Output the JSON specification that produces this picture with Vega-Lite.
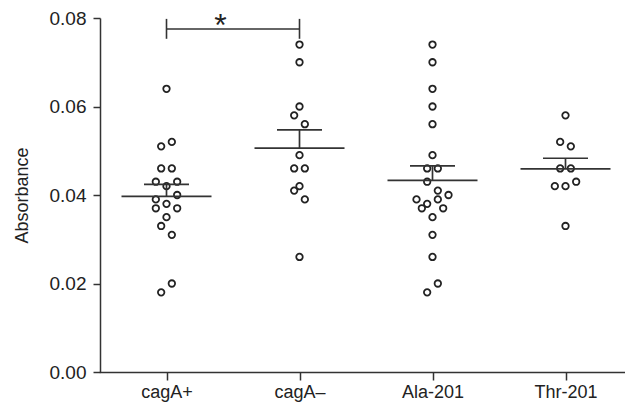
{
  "$schema": "https://vega.github.io/schema/vega-lite/v6.json",
  "autosize": {"type": "none"},
  "padding": {"left": 100, "top": 18, "right": 0, "bottom": 41},
  "width": 532,
  "height": 354,
  "background": "white",
  "config": {
    "view": {"stroke": null},
    "font": "Liberation Sans",
    "axis": {"domainColor": "#333333", "domainWidth": 1.5, "tickColor": "#333333", "tickWidth": 1.5, "labelColor": "#222222", "titleColor": "#222222", "grid": false}
  },
  "datasets": {
    "points": [
      {"group": "cagA+", "absorbance": 0.064, "col": 0},
      {"group": "cagA+", "absorbance": 0.052, "col": 1},
      {"group": "cagA+", "absorbance": 0.051, "col": -1},
      {"group": "cagA+", "absorbance": 0.046, "col": -1},
      {"group": "cagA+", "absorbance": 0.046, "col": 1},
      {"group": "cagA+", "absorbance": 0.043, "col": -2},
      {"group": "cagA+", "absorbance": 0.043, "col": 2},
      {"group": "cagA+", "absorbance": 0.042, "col": 0},
      {"group": "cagA+", "absorbance": 0.040, "col": 2},
      {"group": "cagA+", "absorbance": 0.039, "col": -2},
      {"group": "cagA+", "absorbance": 0.038, "col": 0},
      {"group": "cagA+", "absorbance": 0.037, "col": -2},
      {"group": "cagA+", "absorbance": 0.037, "col": 2},
      {"group": "cagA+", "absorbance": 0.035, "col": 0},
      {"group": "cagA+", "absorbance": 0.033, "col": -1},
      {"group": "cagA+", "absorbance": 0.031, "col": 1},
      {"group": "cagA+", "absorbance": 0.020, "col": 1},
      {"group": "cagA+", "absorbance": 0.018, "col": -1},
      {"group": "cagA–", "absorbance": 0.074, "col": 0},
      {"group": "cagA–", "absorbance": 0.070, "col": 0},
      {"group": "cagA–", "absorbance": 0.060, "col": 0},
      {"group": "cagA–", "absorbance": 0.058, "col": -1},
      {"group": "cagA–", "absorbance": 0.056, "col": 1},
      {"group": "cagA–", "absorbance": 0.049, "col": 0},
      {"group": "cagA–", "absorbance": 0.046, "col": -1},
      {"group": "cagA–", "absorbance": 0.046, "col": 1},
      {"group": "cagA–", "absorbance": 0.042, "col": 0},
      {"group": "cagA–", "absorbance": 0.041, "col": -1},
      {"group": "cagA–", "absorbance": 0.039, "col": 1},
      {"group": "cagA–", "absorbance": 0.026, "col": 0},
      {"group": "Ala-201", "absorbance": 0.074, "col": 0},
      {"group": "Ala-201", "absorbance": 0.070, "col": 0},
      {"group": "Ala-201", "absorbance": 0.064, "col": 0},
      {"group": "Ala-201", "absorbance": 0.060, "col": 0},
      {"group": "Ala-201", "absorbance": 0.056, "col": 0},
      {"group": "Ala-201", "absorbance": 0.049, "col": 0},
      {"group": "Ala-201", "absorbance": 0.046, "col": -1},
      {"group": "Ala-201", "absorbance": 0.046, "col": 1},
      {"group": "Ala-201", "absorbance": 0.043, "col": -1},
      {"group": "Ala-201", "absorbance": 0.041, "col": 1},
      {"group": "Ala-201", "absorbance": 0.040, "col": 3},
      {"group": "Ala-201", "absorbance": 0.039, "col": -3},
      {"group": "Ala-201", "absorbance": 0.039, "col": 1},
      {"group": "Ala-201", "absorbance": 0.038, "col": -1},
      {"group": "Ala-201", "absorbance": 0.037, "col": -2},
      {"group": "Ala-201", "absorbance": 0.037, "col": 2},
      {"group": "Ala-201", "absorbance": 0.035, "col": 0},
      {"group": "Ala-201", "absorbance": 0.031, "col": 0},
      {"group": "Ala-201", "absorbance": 0.026, "col": 0},
      {"group": "Ala-201", "absorbance": 0.020, "col": 1},
      {"group": "Ala-201", "absorbance": 0.018, "col": -1},
      {"group": "Thr-201", "absorbance": 0.058, "col": 0},
      {"group": "Thr-201", "absorbance": 0.052, "col": -1},
      {"group": "Thr-201", "absorbance": 0.051, "col": 1},
      {"group": "Thr-201", "absorbance": 0.046, "col": -1},
      {"group": "Thr-201", "absorbance": 0.046, "col": 1},
      {"group": "Thr-201", "absorbance": 0.043, "col": 2},
      {"group": "Thr-201", "absorbance": 0.042, "col": -2},
      {"group": "Thr-201", "absorbance": 0.042, "col": 0},
      {"group": "Thr-201", "absorbance": 0.033, "col": 0}
    ],
    "summary": [
      {"group": "cagA+", "mean": 0.0397, "upper": 0.0424},
      {"group": "cagA–", "mean": 0.0506, "upper": 0.0547},
      {"group": "Ala-201", "mean": 0.0433, "upper": 0.0466},
      {"group": "Thr-201", "mean": 0.0459, "upper": 0.0483}
    ],
    "bracket": [
      {"from": "cagA+", "to": "cagA–", "level": 0.0775, "low": 0.0753, "high": 0.0798, "label": "*"}
    ],
    "ends": [
      {"group": "cagA+", "level": 0.0775, "low": 0.0753, "high": 0.0798},
      {"group": "cagA–", "level": 0.0775, "low": 0.0753, "high": 0.0798}
    ]
  },
  "encoding": {
    "x": {
      "field": "group",
      "type": "nominal",
      "sort": ["cagA+", "cagA–", "Ala-201", "Thr-201"],
      "scale": {"type": "point", "padding": 0.5, "domain": ["cagA+", "cagA–", "Ala-201", "Thr-201"]},
      "axis": {"title": null, "labelAngle": 0, "labelFontSize": 18, "labelPadding": 3, "tickSize": 8, "domainCap": "square"}
    }
  },
  "layer": [
    {
      "data": {"name": "points"},
      "mark": {"type": "point", "shape": "circle", "filled": false, "size": 42, "stroke": "#222222", "strokeWidth": 1.8, "opacity": 1},
      "encoding": {
        "xOffset": {"field": "col", "type": "quantitative", "scale": {"domain": [-3, 3], "range": [-16, 16]}},
        "y": {
          "field": "absorbance",
          "type": "quantitative",
          "scale": {"domain": [0, 0.08], "nice": false, "zero": true},
          "axis": {"title": "Absorbance", "values": [0, 0.02, 0.04, 0.06, 0.08], "format": ".2f", "labelFontSize": 19, "labelPadding": 7, "tickSize": 7, "titleFontSize": 18, "titleFontWeight": "normal", "titlePadding": 18}
        }
      }
    },
    {
      "data": {"name": "summary"},
      "mark": {"type": "tick", "size": 90, "thickness": 1.7, "color": "#333333", "opacity": 1},
      "encoding": {"y": {"field": "mean", "type": "quantitative"}}
    },
    {
      "data": {"name": "summary"},
      "mark": {"type": "tick", "size": 45, "thickness": 1.7, "color": "#333333", "opacity": 1},
      "encoding": {"y": {"field": "upper", "type": "quantitative"}}
    },
    {
      "data": {"name": "summary"},
      "mark": {"type": "rule", "strokeWidth": 1.7, "color": "#333333"},
      "encoding": {"y": {"field": "mean", "type": "quantitative"}, "y2": {"field": "upper"}}
    },
    {
      "data": {"name": "bracket"},
      "mark": {"type": "rule", "strokeWidth": 1.6, "color": "#333333"},
      "encoding": {"x": {"field": "from", "type": "nominal"}, "x2": {"field": "to"}, "y": {"field": "level", "type": "quantitative"}}
    },
    {
      "data": {"name": "ends"},
      "mark": {"type": "rule", "strokeWidth": 1.6, "color": "#333333"},
      "encoding": {"y": {"field": "low", "type": "quantitative"}, "y2": {"field": "high"}}
    },
    {
      "data": {"name": "bracket"},
      "mark": {"type": "text", "fontSize": 32, "color": "#222222", "baseline": "middle", "dy": 7, "dx": 54},
      "encoding": {"x": {"field": "from", "type": "nominal"}, "y": {"field": "high", "type": "quantitative"}, "text": {"field": "label"}}
    }
  ]
}
